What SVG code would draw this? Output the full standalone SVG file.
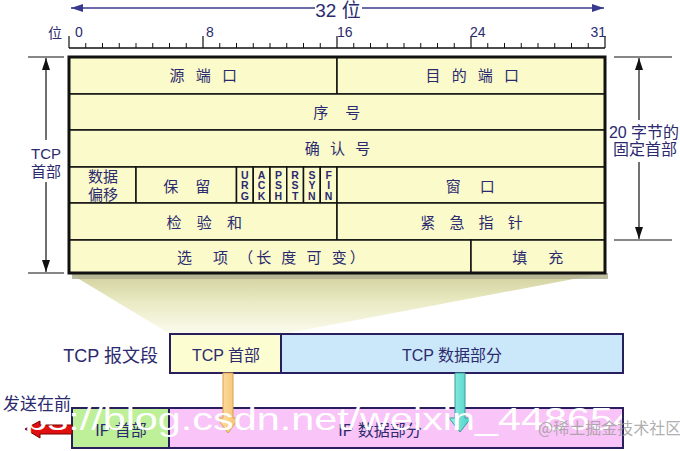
<svg xmlns="http://www.w3.org/2000/svg" width="680" height="451" viewBox="0 0 680 451">
<defs>
<style>
.t{font-family:"Liberation Sans","Noto Sans CJK SC",sans-serif;fill:#2b2a6e;}
.c{font-size:15px;text-anchor:middle;}
.cell{fill:#fafacb;stroke:#111;stroke-width:1.5}
.fl{font-family:"Liberation Sans",sans-serif;font-weight:bold;font-size:10.5px;text-anchor:middle;fill:#2b2a6e}
.dim{stroke:#111;stroke-width:1.2;fill:none}
.dimb{stroke:#3a3a8c;stroke-width:1.4;fill:none}
.box{stroke:#2a1f5e;stroke-width:2}
.lb{font-size:16px}
</style>
<linearGradient id="fun" x1="0" y1="0" x2="0" y2="1">
<stop offset="0" stop-color="#cfcf9c"/>
<stop offset="0.45" stop-color="#e9e9c2"/>
<stop offset="1" stop-color="#fbfbee"/>
</linearGradient>
<linearGradient id="org" x1="0" y1="0" x2="1" y2="0">
<stop offset="0" stop-color="#fde6a6"/>
<stop offset="1" stop-color="#f4bd6e"/>
</linearGradient>
<linearGradient id="cyn" x1="0" y1="0" x2="1" y2="0">
<stop offset="0" stop-color="#9af0e6"/>
<stop offset="1" stop-color="#48d2c6"/>
</linearGradient>
<marker id="ah" viewBox="0 0 12 8" refX="12" refY="4" markerWidth="12" markerHeight="8" markerUnits="userSpaceOnUse" orient="auto"><path d="M0,0 L12,4 L0,8 z" fill="#111"/></marker>
<marker id="ahb" viewBox="0 0 12 8" refX="12" refY="4" markerWidth="12" markerHeight="8" markerUnits="userSpaceOnUse" orient="auto"><path d="M0,0 L12,4 L0,8 z" fill="#3a3a8c"/></marker>
<clipPath id="wmclip"><rect x="0" y="380" width="622" height="71"/></clipPath>
</defs>
<rect width="680" height="451" fill="#ffffff"/>

<!-- funnel and shadow -->
<polygon points="69,273 605,273 283,334 170,334" fill="url(#fun)"/>
<rect x="72" y="273" width="536" height="6" fill="#b2b292" opacity="0.85"/>

<!-- top 32-bit arrow -->
<g id="width-32">
<path class="dimb" d="M315,8 H71" marker-end="url(#ahb)"/>
<path class="dimb" d="M362,8 H604" marker-end="url(#ahb)"/>
<text class="t" x="338" y="17" font-size="19" text-anchor="middle" fill="#2e2a80">32 位</text>
</g>

<!-- ruler -->
<g id="ruler">
<path d="M69,48 H605" stroke="#111" stroke-width="1.3"/>
<path stroke="#111" stroke-width="1.2" d="M69,36V48 M203,36V48 M337,36V48 M471,36V48 M605,36V48"/>
<path stroke="#111" stroke-width="1" d="M85.75,43V48 M102.5,43V48 M119.25,43V48 M136,43V48 M152.75,43V48 M169.5,43V48 M186.25,43V48 M219.75,43V48 M236.5,43V48 M253.25,43V48 M270,43V48 M286.75,43V48 M303.5,43V48 M320.25,43V48 M353.75,43V48 M370.5,43V48 M387.25,43V48 M404,43V48 M420.75,43V48 M437.5,43V48 M454.25,43V48 M487.75,43V48 M504.5,43V48 M521.25,43V48 M538,43V48 M554.75,43V48 M571.5,43V48 M588.25,43V48"/>
<text class="t" x="48" y="38" font-size="14">位</text>
<text class="t" x="75" y="37" font-size="14">0</text>
<text class="t" x="206" y="37" font-size="14">8</text>
<text class="t" x="337" y="37" font-size="14">16</text>
<text class="t" x="470" y="37" font-size="14">24</text>
<text class="t" x="606" y="37" font-size="14" text-anchor="end">31</text>
</g>

<!-- TCP header cells -->
<g id="src-port"><rect class="cell" x="69" y="57" width="268" height="37"/><text class="t c" x="205" y="81" letter-spacing="3.5">源 端 口</text></g>
<g id="dst-port"><rect class="cell" x="337" y="57" width="268" height="37"/><text class="t c" x="474" y="81" letter-spacing="3.5">目 的 端 口</text></g>
<g id="seq"><rect class="cell" x="69" y="94" width="536" height="36"/><text class="t c" x="340" y="118" letter-spacing="6.5">序 号</text></g>
<g id="ack"><rect class="cell" x="69" y="130" width="536" height="37"/><text class="t c" x="339" y="154" letter-spacing="3">确 认 号</text></g>
<g id="data-offset"><rect class="cell" x="69" y="167" width="67" height="36"/><text class="t c" x="103" y="182">数据</text><text class="t c" x="103" y="200">偏移</text></g>
<g id="reserved"><rect class="cell" x="136" y="167" width="100.5" height="36"/><text class="t c" x="190" y="192" letter-spacing="6.5">保 留</text></g>
<g id="flag-urg"><rect class="cell" x="236.5" y="167" width="16.75" height="36"/><text class="fl" x="244.9" y="179">U</text><text class="fl" x="244.9" y="189">R</text><text class="fl" x="244.9" y="200">G</text></g>
<g id="flag-ack"><rect class="cell" x="253.25" y="167" width="16.75" height="36"/><text class="fl" x="261.6" y="179">A</text><text class="fl" x="261.6" y="189">C</text><text class="fl" x="261.6" y="200">K</text></g>
<g id="flag-psh"><rect class="cell" x="270" y="167" width="16.75" height="36"/><text class="fl" x="278.4" y="179">P</text><text class="fl" x="278.4" y="189">S</text><text class="fl" x="278.4" y="200">H</text></g>
<g id="flag-rst"><rect class="cell" x="286.75" y="167" width="16.75" height="36"/><text class="fl" x="295.1" y="179">R</text><text class="fl" x="295.1" y="189">S</text><text class="fl" x="295.1" y="200">T</text></g>
<g id="flag-syn"><rect class="cell" x="303.5" y="167" width="16.75" height="36"/><text class="fl" x="311.9" y="179">S</text><text class="fl" x="311.9" y="189">Y</text><text class="fl" x="311.9" y="200">N</text></g>
<g id="flag-fin"><rect class="cell" x="320.25" y="167" width="16.75" height="36"/><text class="fl" x="328.6" y="179">F</text><text class="fl" x="328.6" y="189">I</text><text class="fl" x="328.6" y="200">N</text></g>
<g id="window"><rect class="cell" x="337" y="167" width="268" height="36"/><text class="t c" x="474" y="192" letter-spacing="7.5">窗 口</text></g>
<g id="checksum"><rect class="cell" x="69" y="203" width="268" height="37"/><text class="t c" x="207" y="228" letter-spacing="5.5">检 验 和</text></g>
<g id="urgent-ptr"><rect class="cell" x="337" y="203" width="268" height="37"/><text class="t c" x="474" y="228" letter-spacing="5">紧 急 指 针</text></g>
<g id="options"><rect class="cell" x="69" y="240" width="402" height="33"/><text class="t" x="177" y="263" font-size="15" letter-spacing="3">选　项 （长 度 可 变）</text></g>
<g id="padding"><rect class="cell" x="471" y="240" width="134" height="33"/><text class="t c" x="542" y="263" letter-spacing="8.5">填 充</text></g>
<rect x="69" y="57" width="536" height="216" fill="none" stroke="#111" stroke-width="3"/>

<!-- left dimension -->
<g id="tcp-header-dim">
<path class="dim" d="M28,57 H64 M28,273 H64"/>
<path class="dim" d="M46,140 V58" marker-end="url(#ah)"/>
<path class="dim" d="M46,182 V272" marker-end="url(#ah)"/>
<text class="t" x="46" y="159" font-size="15" text-anchor="middle">TCP</text>
<text class="t" x="46" y="177" font-size="15" text-anchor="middle">首部</text>
</g>

<!-- right dimension -->
<g id="fixed-header-dim">
<path class="dim" d="M614,57 H672 M614,240 H672"/>
<path class="dim" d="M639,120 V58" marker-end="url(#ah)"/>
<path class="dim" d="M639,162 V239" marker-end="url(#ah)"/>
<text class="t" x="644" y="138" font-size="16" text-anchor="middle">20 字节的</text>
<text class="t" x="645" y="155" font-size="16" text-anchor="middle">固定首部</text>
</g>

<!-- TCP segment -->
<text class="t" x="158" y="362" font-size="18" text-anchor="end">TCP 报文段</text>
<g id="tcp-hdr-box"><rect class="box" x="170" y="334" width="111" height="39" fill="#fdfdd2"/><text class="t lb" x="226" y="361" text-anchor="middle">TCP 首部</text></g>
<g id="tcp-data-box"><rect class="box" x="281" y="334" width="342" height="39" fill="#cbe8fa"/><text class="t lb" x="452" y="361" text-anchor="middle">TCP 数据部分</text></g>

<!-- IP datagram -->
<text class="t" x="3" y="410" font-size="17">发送在前</text>
<g id="ip-hdr-box"><rect class="box" x="72" y="408" width="97" height="40" fill="#bdf098"/><text class="t lb" x="121" y="436" text-anchor="middle">IP 首部</text></g>
<g id="ip-data-box"><rect class="box" x="169" y="408" width="454" height="40" fill="#f9c4f7"/><text class="t lb" x="380" y="436" text-anchor="middle">IP 数据部分</text></g>

<!-- connectors -->
<g id="connectors">
<path d="M223,373 V418 H217 L228,433 L239,418 H233 V373 Z" fill="url(#org)" stroke="#d9a050" stroke-width="1"/>
<path d="M455,373 V418 H449 L460,432 L471,418 H465 V373 Z" fill="url(#cyn)" stroke="#3a9a9a" stroke-width="1"/>
<path d="M25,429 L40,421 V425 H72 V434 H40 V438 Z" fill="#e01010" stroke="#7a0000" stroke-width="1"/>
</g>

<!-- watermarks -->
<text x="13" y="430" clip-path="url(#wmclip)" font-family="Liberation Sans, sans-serif" font-size="32" fill="#ffffff" textLength="623" lengthAdjust="spacingAndGlyphs">tps://blog.csdn.net/weixin_448654</text>
<text x="538" y="434" font-family="Noto Sans CJK SC, sans-serif" font-size="16" fill="#9a9a9a" fill-opacity="0.8">@稀土掘金技术社区</text>
</svg>
